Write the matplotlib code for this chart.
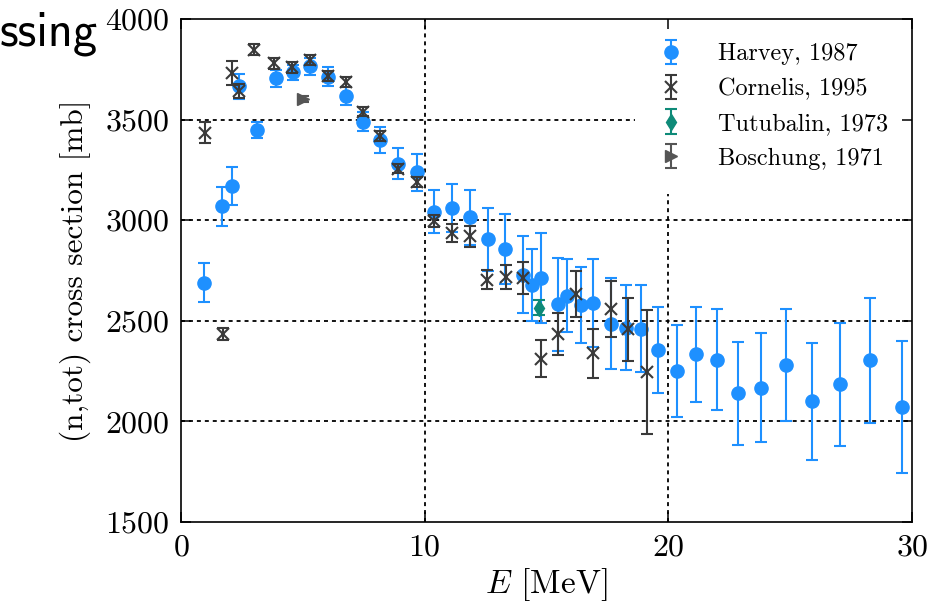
import matplotlib
matplotlib.use('Agg')
import matplotlib.pyplot as plt

# Harvey, 1987
harvey_e = [0.94, 1.68, 2.08, 2.40, 3.10, 3.89, 4.58, 5.31, 6.02, 6.76, 7.45, 8.17,
            8.89, 9.67, 10.38, 11.12, 11.86, 12.58, 13.31, 14.05, 14.40, 14.76,
            15.47, 15.84, 16.41, 16.91, 17.64, 18.26, 18.88, 19.59, 20.34, 21.15,
            21.98, 22.86, 23.81, 24.83, 25.90, 27.04, 28.27, 29.60]
harvey_xs = [2690, 3070, 3170, 3665, 3448, 3706, 3736, 3764, 3714, 3617, 3489, 3400,
             3281, 3237, 3043, 3060, 3015, 2904, 2857, 2728, 2678, 2711,
             2581, 2624, 2579, 2589, 2486, 2466, 2461, 2355, 2250, 2333,
             2307, 2139, 2167, 2280, 2099, 2184, 2303, 2074]
harvey_err = [97, 97, 96, 62, 42, 42, 37, 43, 45, 47, 47, 64,
              78, 90, 105, 120, 136, 157, 176, 191, 179, 224,
              231, 181, 190, 217, 226, 211, 216, 216, 229, 238,
              250, 258, 271, 278, 289, 304, 309, 328]

# Cornelis, 1995
cornelis_e = [1.00, 1.74, 2.08, 2.40, 3.00, 3.83, 4.55, 5.29, 6.02, 6.76, 7.47, 8.18,
              8.90, 9.68, 10.38, 11.12, 11.86, 12.57, 13.32, 14.03, 14.76, 15.48,
              16.20, 16.91, 17.64, 18.36, 19.12]
cornelis_xs = [3435, 2433, 3731, 3640, 3847, 3780, 3760, 3797, 3717, 3689, 3539, 3420,
               3256, 3192, 2995, 2936, 2919, 2704, 2716, 2711, 2312, 2433,
               2633, 2338, 2558, 2458, 2245]
cornelis_err = [52, 30, 58, 35, 27, 28, 27, 25, 25, 25, 23, 25,
                22, 25, 29, 46, 50, 46, 60, 80, 93, 104,
                114, 123, 139, 156, 310]

# Tutubalin, 1973
tutubalin_e = [14.71]
tutubalin_xs = [2566]
tutubalin_err = [37]

# Boschung, 1971
boschung_e = [4.99]
boschung_xs = [3602]
boschung_err = [15]

xticks = [0, 10, 20, 30]
yticks = [1500, 2000, 2500, 3000, 3500, 4000]

plt.rcParams['font.family'] = 'cmr10'
plt.rcParams['mathtext.fontset'] = 'cm'
plt.rcParams['axes.formatter.use_mathtext'] = True

fig = plt.figure(figsize=(9.32, 6.16), dpi=100)
ax = fig.add_axes([0.1942, 0.1526, 0.7843, 0.8166])

ax.errorbar(harvey_e, harvey_xs, yerr=harvey_err, fmt='o', color='#1e90ff', ms=9.5,
            capsize=4.5, elinewidth=1.5, capthick=1.5, label='Harvey, 1987', zorder=3)
ax.errorbar(cornelis_e, cornelis_xs, yerr=cornelis_err, fmt='x', color='#3a3a3a', ms=9,
            mew=1.5, capsize=4.5, elinewidth=1.5, capthick=1.6, label='Cornelis, 1995', zorder=4)
ax.errorbar(tutubalin_e, tutubalin_xs, yerr=tutubalin_err, fmt='d', color='#0e8a78', ms=8,
            capsize=4.5, elinewidth=1.5, capthick=1.5, label='Tutubalin, 1973', zorder=5)
ax.errorbar(boschung_e, boschung_xs, yerr=boschung_err, fmt='>', color='#555555', ms=8,
            capsize=4.5, elinewidth=1.5, capthick=1.5, label='Boschung, 1971', zorder=5)

ax.set_xlim(0, 30)
ax.set_ylim(1500, 4000)
ax.set_xticks(xticks)
ax.set_yticks(yticks)

# grid drawn by hand so the legend box can hide it but not the ticks
for xv in xticks[1:-1]:
    ax.axvline(xv, color='k', linestyle=(0, (2.2, 2.2)), linewidth=1.3, zorder=0.5)
for yv in yticks[1:-1]:
    ax.axhline(yv, color='k', linestyle=(0, (2.2, 2.2)), linewidth=1.3, zorder=0.5)

ax.tick_params(direction='in', top=True, right=True, length=7, width=1.1, labelsize=23)
ax.tick_params(axis='x', pad=9)
ax.tick_params(axis='y', pad=8)
for s in ax.spines.values():
    s.set_linewidth(1.2)

ax.set_xlabel('$E$ [MeV]', fontsize=24, labelpad=3)
ax.set_ylabel('(n,tot) cross section [mb]', fontsize=22.5, labelpad=10)

leg = ax.legend(loc='upper right', bbox_to_anchor=(1.0, 1.0), borderaxespad=0,
                fontsize=17.5, frameon=True, framealpha=1, fancybox=False,
                handlelength=1.0, handletextpad=1.4, borderpad=1.0, labelspacing=0.52)
leg.get_frame().set_edgecolor('none')
leg.set_zorder(1)

fig.text(0.0, 1 - 45 / 616, 'ssing', family='cmss10', fontsize=35, va='baseline')

fig.savefig('out.png', dpi=100)
